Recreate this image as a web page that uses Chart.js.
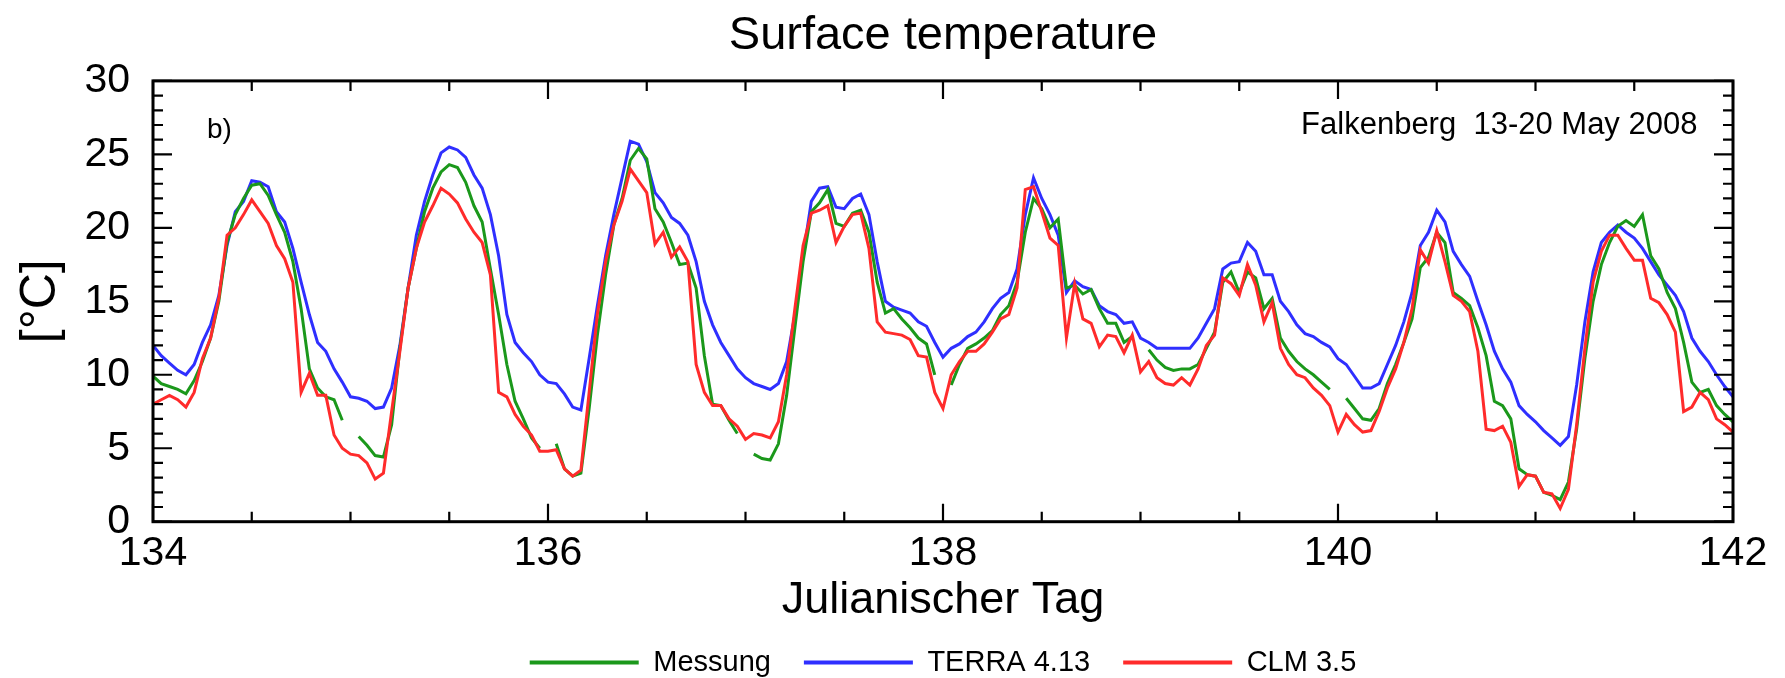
<!DOCTYPE html>
<html>
<head>
<meta charset="utf-8">
<script src="https://cdn.jsdelivr.net/npm/chart.js@4.4.1/dist/chart.umd.min.js"></script>
<style>
  html, body { margin: 0; padding: 0; background: #fff; }
  #wrap { width: 1785px; height: 678px; }
</style>
</head>
<body>
<div id="wrap"><canvas id="surfaceChart"></canvas></div>
<script>
// hourly values, day 134.0 .. 142.0 (193 points each), two rows = one day
const startDay = 134;

const messung = [
  9.9, 9.4, 9.2, 9.0, 8.7, 9.6, 10.9, 12.5, 15.0, 19.0, 20.9, 22.0, 22.9, 23.0, 22.2, 20.9, 19.7, 17.7, 14.5, 10.4, 9.1, 8.5, 8.3, 6.9,
  null, 5.8, 5.2, 4.5, 4.4, 6.6, 11.8, 15.9, 18.6, 21.1, 22.7, 23.8, 24.3, 24.1, 23.1, 21.5, 20.4, 17.2, 14.1, 10.7, 8.2, 7.0, 5.7, 5.0,
  null, 5.3, 3.6, 3.1, 3.3, 7.7, 12.7, 16.8, 20.2, 22.0, 24.6, 25.4, 24.7, 21.3, 20.4, 19.0, 17.5, 17.6, 15.9, 11.3, 8.0, 7.9, 6.9, 6.0,
  null, 4.6, 4.3, 4.2, 5.3, 8.6, 13.2, 17.7, 21.1, 21.7, 22.6, 20.3, 20.1, 21.0, 21.2, 19.7, 16.3, 14.2, 14.5, 13.8, 13.2, 12.5, 12.1, 10.0,
  null, 9.3, 10.7, 11.8, 12.1, 12.5, 13.0, 14.1, 14.7, 16.3, 19.7, 22.0, 21.3, 20.0, 20.6, 15.9, 16.1, 15.5, 15.8, 14.5, 13.5, 13.5, 12.2, 12.6,
  null, 11.7, 11.0, 10.5, 10.3, 10.4, 10.4, 10.7, 11.8, 12.9, 16.3, 17.0, 15.6, 17.0, 16.6, 14.5, 15.2, 12.5, 11.6, 10.9, 10.4, 10.0, 9.5, 9.0,
  null, 8.4, 7.7, 7.0, 6.9, 7.7, 9.4, 10.7, 12.2, 13.8, 17.3, 18.0, 19.7, 19.0, 15.6, 15.2, 14.7, 13.2, 11.3, 8.2, 7.9, 7.0, 3.6, 3.2,
  3.1, 2.0, 1.8, 1.5, 2.7, 6.3, 11.1, 15.0, 17.5, 19.0, 20.1, 20.5, 20.1, 20.9, 18.1, 17.2, 15.6, 14.5, 12.2, 9.5, 8.8, 9.0, 7.9, 7.3,
  6.8
];

const terra = [
  12.0, 11.3, 10.8, 10.3, 10.0, 10.7, 12.2, 13.4, 15.4, 18.8, 21.1, 21.8, 23.2, 23.1, 22.8, 21.1, 20.4, 18.6, 16.3, 14.1, 12.2, 11.6, 10.4, 9.5,
  8.5, 8.4, 8.2, 7.7, 7.8, 9.1, 12.0, 15.9, 19.5, 21.8, 23.6, 25.1, 25.5, 25.3, 24.8, 23.6, 22.7, 20.9, 18.1, 14.1, 12.2, 11.5, 10.9, 10.0,
  9.5, 9.4, 8.7, 7.8, 7.6, 11.1, 14.7, 18.1, 20.9, 23.4, 25.9, 25.7, 24.5, 22.4, 21.7, 20.7, 20.3, 19.5, 17.7, 15.0, 13.4, 12.2, 11.3, 10.4,
  9.8, 9.4, 9.2, 9.0, 9.4, 10.9, 14.1, 18.1, 21.8, 22.7, 22.8, 21.4, 21.3, 22.0, 22.3, 20.9, 17.7, 15.0, 14.6, 14.4, 14.2, 13.6, 13.3, 12.2,
  11.2, 11.8, 12.1, 12.6, 12.9, 13.6, 14.5, 15.2, 15.6, 17.2, 20.9, 23.4, 22.0, 20.9, 19.5, 15.6, 16.4, 16.0, 15.8, 14.7, 14.3, 14.1, 13.5, 13.6,
  12.5, 12.2, 11.8, 11.8, 11.8, 11.8, 11.8, 12.5, 13.5, 14.5, 17.2, 17.6, 17.7, 19.0, 18.4, 16.8, 16.8, 15.0, 14.3, 13.4, 12.8, 12.6, 12.2, 11.9,
  11.1, 10.7, 9.9, 9.1, 9.1, 9.4, 10.7, 12.0, 13.6, 15.6, 18.8, 19.7, 21.2, 20.4, 18.4, 17.5, 16.7, 15.0, 13.4, 11.6, 10.4, 9.5, 7.9, 7.3,
  6.8, 6.2, 5.7, 5.2, 5.8, 9.3, 13.6, 17.0, 19.0, 19.7, 20.2, 19.7, 19.3, 18.6, 17.7, 16.8, 16.1, 15.4, 14.3, 12.5, 11.6, 10.9, 10.0, 9.2,
  8.5
];

const clm = [
  8.0, 8.3, 8.6, 8.3, 7.8, 8.8, 11.1, 12.5, 15.2, 19.5, 20.0, 20.9, 21.9, 21.1, 20.3, 18.8, 17.9, 16.3, 8.8, 10.1, 8.6, 8.6, 5.9, 5.0,
  4.6, 4.5, 4.0, 2.9, 3.3, 7.5, 11.6, 15.9, 18.6, 20.4, 21.5, 22.7, 22.3, 21.7, 20.6, 19.7, 19.0, 16.8, 8.8, 8.5, 7.3, 6.5, 5.9, 4.8,
  4.8, 4.9, 3.6, 3.1, 3.5, 8.8, 14.1, 17.7, 20.2, 21.8, 24.0, 23.2, 22.4, 18.9, 19.7, 18.0, 18.7, 17.7, 10.7, 8.8, 7.9, 7.9, 7.0, 6.5,
  5.6, 6.0, 5.9, 5.7, 6.8, 10.0, 14.5, 18.8, 21.0, 21.2, 21.5, 19.0, 20.1, 20.9, 21.0, 18.6, 13.6, 12.9, 12.8, 12.7, 12.4, 11.3, 11.2, 8.8,
  7.7, 10.0, 10.9, 11.6, 11.6, 12.1, 12.9, 13.8, 14.1, 15.9, 22.6, 22.8, 21.1, 19.3, 18.8, 12.5, 16.2, 13.8, 13.5, 11.9, 12.7, 12.6, 11.5, 12.7,
  10.2, 10.9, 9.8, 9.4, 9.3, 9.8, 9.3, 10.4, 12.0, 12.7, 16.6, 16.2, 15.4, 17.5, 16.1, 13.6, 14.9, 11.8, 10.7, 10.0, 9.8, 9.1, 8.6, 7.9,
  6.1, 7.3, 6.6, 6.1, 6.2, 7.5, 9.1, 10.4, 12.2, 14.5, 18.5, 17.6, 19.8, 17.7, 15.4, 15.0, 14.3, 11.6, 6.3, 6.2, 6.5, 5.4, 2.4, 3.2,
  3.1, 2.0, 1.9, 0.9, 2.2, 6.6, 11.8, 16.3, 18.4, 19.5, 19.5, 18.6, 17.8, 17.8, 15.2, 14.9, 14.1, 12.9, 7.5, 7.8, 8.8, 8.3, 7.0, 6.6,
  6.1
];

const xTicksMajor = [134, 136, 138, 140, 142];

function toPoints(values) {
    return values.map((v, i) => ({ x: startDay + i / 24, y: v }));
}

const FONT = "'Liberation Sans', Arial, Helvetica, sans-serif";
Chart.defaults.font.family = FONT;
Chart.defaults.color = '#000';

// Rahmen mit nach innen zeigenden Ticks + Beschriftungen im Plot
const frameTicks = {
    id: 'frameTicks',
    afterDatasetsDraw(chart) {
        const { ctx, chartArea: a, scales: { x, y } } = chart;
        ctx.save();
        ctx.strokeStyle = '#000';
        ctx.lineWidth = 2.2;
        ctx.beginPath();
        for (let v = 0; v <= 30; v++) {
            const py = y.getPixelForValue(v);
            const len = v % 5 === 0 ? 19 : 10;
            ctx.moveTo(a.left, py); ctx.lineTo(a.left + len, py);
            ctx.moveTo(a.right, py); ctx.lineTo(a.right - len, py);
        }
        for (let d = 134; d <= 142; d += 0.5) {
            const px = x.getPixelForValue(d);
            const len = xTicksMajor.includes(d) ? 18 : 10;
            ctx.moveTo(px, a.bottom); ctx.lineTo(px, a.bottom - len);
            ctx.moveTo(px, a.top); ctx.lineTo(px, a.top + len);
        }
        ctx.stroke();
        ctx.lineWidth = 3;
        ctx.strokeRect(a.left, a.top, a.right - a.left, a.bottom - a.top);

        ctx.fillStyle = '#000';
        ctx.textBaseline = 'middle';
        ctx.textAlign = 'left';
        ctx.font = '28px ' + FONT;
        ctx.fillText('b)', x.getPixelForValue(134.273), y.getPixelForValue(26.65));
        ctx.textAlign = 'right';
        ctx.font = '31px ' + FONT;
        ctx.fillText('Falkenberg  13-20 May 2008', x.getPixelForValue(141.82), y.getPixelForValue(26.95));
        ctx.restore();
    }
};

new Chart(document.getElementById('surfaceChart'), {
    type: 'line',
    data: {
        datasets: [
            { label: 'Messung', data: toPoints(messung), borderColor: '#1b981b', backgroundColor: '#1b981b', order: 1 },
            { label: 'TERRA 4.13', data: toPoints(terra), borderColor: '#2f2fff', backgroundColor: '#2f2fff', order: 2 },
            { label: 'CLM 3.5', data: toPoints(clm), borderColor: '#ff2b2b', backgroundColor: '#ff2b2b', order: 0 }
        ]
    },
    options: {
        responsive: true,
        maintainAspectRatio: false,
        animation: false,
        layout: { padding: { left: 0, right: 52, top: 0, bottom: -9 } },
        elements: {
            line: { borderWidth: 3, tension: 0 },
            point: { radius: 0 }
        },
        plugins: {
            title: {
                display: true,
                text: 'Surface temperature',
                fullSize: false,
                color: '#000',
                font: { size: 47, weight: 'normal' },
                padding: { top: 8, bottom: 16.5 }
            },
            legend: {
                position: 'bottom',
                fullSize: false,
                labels: {
                    boxWidth: 109,
                    boxHeight: 4,
                    padding: 33,
                    color: '#000',
                    font: { size: 29 },
                    sort: (a, b) => a.datasetIndex - b.datasetIndex,
                    generateLabels: chart => Chart.defaults.plugins.legend.labels.generateLabels(chart)
                        .map(item => ({ ...item, lineWidth: 0 }))
                }
            },
            tooltip: { enabled: false }
        },
        scales: {
            x: {
                type: 'linear',
                min: 134,
                max: 142,
                grid: { display: false, drawTicks: false },
                border: { display: false },
                ticks: { stepSize: 2, padding: 7, maxRotation: 0, font: { size: 41 }, color: '#000' },
                title: { display: true, text: 'Julianischer Tag', color: '#000', font: { size: 45 }, padding: { top: 0, bottom: -13 } },
                afterFit: scale => { scale.height = 93.3; }
            },
            y: {
                min: 0,
                max: 30,
                grid: { display: false, drawTicks: false },
                border: { display: false },
                ticks: { stepSize: 5, padding: 23, font: { size: 41 }, color: '#000' },
                title: { display: true, text: '[°C]', color: '#000', font: { size: 50 }, padding: { top: 11, bottom: 0 } },
                afterFit: scale => { scale.width = 153; }
            }
        }
    },
    plugins: [frameTicks]
});
</script>
</body>
</html>
